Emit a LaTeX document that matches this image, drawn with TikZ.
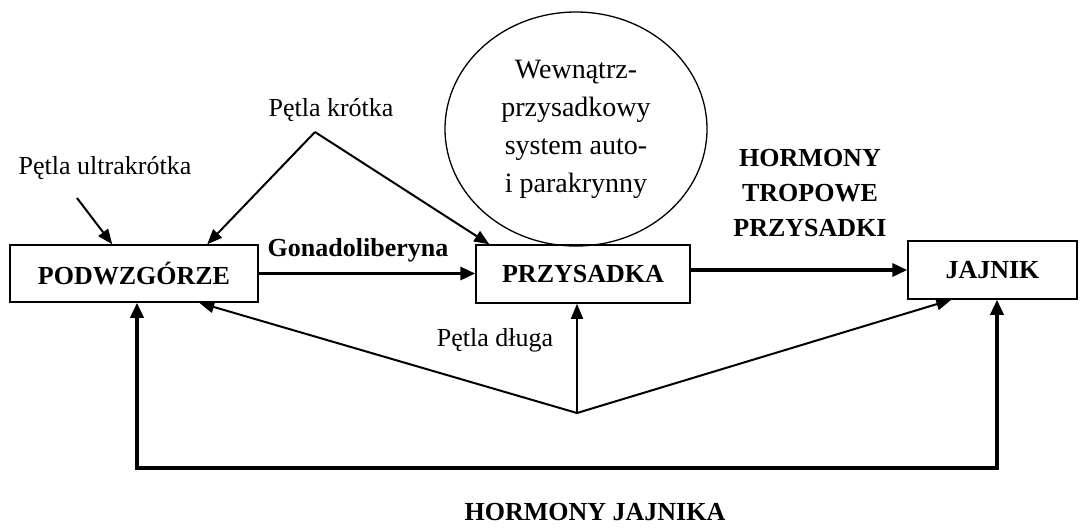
\documentclass[tikz,border=0pt]{standalone}
\usepackage{fontspec}
\setmainfont{Liberation Serif}
\usetikzlibrary{arrows.meta,shapes.geometric}
\begin{document}
\begin{tikzpicture}[x=1pt,y=-1pt,
  box/.style={draw,line width=1.5pt,inner sep=0pt,font=\bfseries\fontsize{26}{30}\selectfont},
  lbl/.style={font=\fontsize{26}{30}\selectfont,inner sep=0pt},
  blbl/.style={font=\bfseries\fontsize{26}{35}\selectfont,inner sep=0pt,align=center},
  tip/.style={Triangle[length=15pt,width=12pt]},
  thin arrow/.style={line width=2pt,-{Triangle[length=15pt,width=12pt]}},
  thick arrow/.style={line width=3.5pt,-{Triangle[length=15pt,width=13pt]}},
]
\useasboundingbox (0,0) rectangle (1083,527);

% main blocks of the axis
\node[box,minimum width=248pt,minimum height=57pt] (pod) at (134,273.5) {PODWZGÓRZE};
\node[box,minimum width=214pt,minimum height=58pt] (prz) at (583,274) {PRZYSADKA};
\node[box,minimum width=169pt,minimum height=58pt] (jaj) at (992.5,270) {JAJNIK};
\node[draw,ellipse,line width=1.3pt,minimum width=262pt,minimum height=234pt,
      inner sep=0pt,align=center,font=\fontsize{28}{38}\selectfont] (auto) at (576,129)
      {Wewnątrz-\\przysadkowy\\system auto-\\i parakrynny};

% labels
\node[lbl] (ultra) at (105,168) {Pętla ultrakrótka};
\node[lbl] (short) at (331,110) {Pętla krótka};
\node[blbl] (gona) at (358,250) {Gonadoliberyna};
\node[blbl] (trop) at (810,193) {HORMONY\\TROPOWE\\PRZYSADKI};
\node[lbl] (long) at (495,340) {Pętla długa};
\node[blbl] (horm) at (595,512) {HORMONY JAJNIKA};

% ultrashort loop
\coordinate (u0) at (77,198);
\draw[thin arrow] (u0) -- ([xshift=103pt]pod.north west);

% short loop
\coordinate (sk) at (315,132);
\draw[thin arrow] (sk) -- ([xshift=198pt]pod.north west);
\draw[thin arrow] (sk) -- ([xshift=14pt]prz.north west);

% forward hormones
\draw[thick arrow] (pod.east) -- (pod.east -| prz.west);
\draw[thick arrow] (prz.east |- jaj) -- (jaj.west);

% long loop
\coordinate (j) at (577,413);
\draw[line width=1.6pt,-{Triangle[length=15pt,width=12pt]}] (j) -- (prz.south -| j);
\draw[thin arrow] (j) -- ([xshift=190pt]pod.south west);
\draw[thin arrow] (j) -- ([xshift=44pt]jaj.south west);

% ovarian hormone feedback
\coordinate (fl) at (137,468);
\coordinate (fr) at (997,468);
\draw[line width=3.5pt,{Triangle[length=15pt,width=13pt]}-{Triangle[length=15pt,width=13pt]}]
  (pod.south -| fl) -- (fl) -- (fr) -- (jaj.south -| fr);
\end{tikzpicture}
\end{document}
